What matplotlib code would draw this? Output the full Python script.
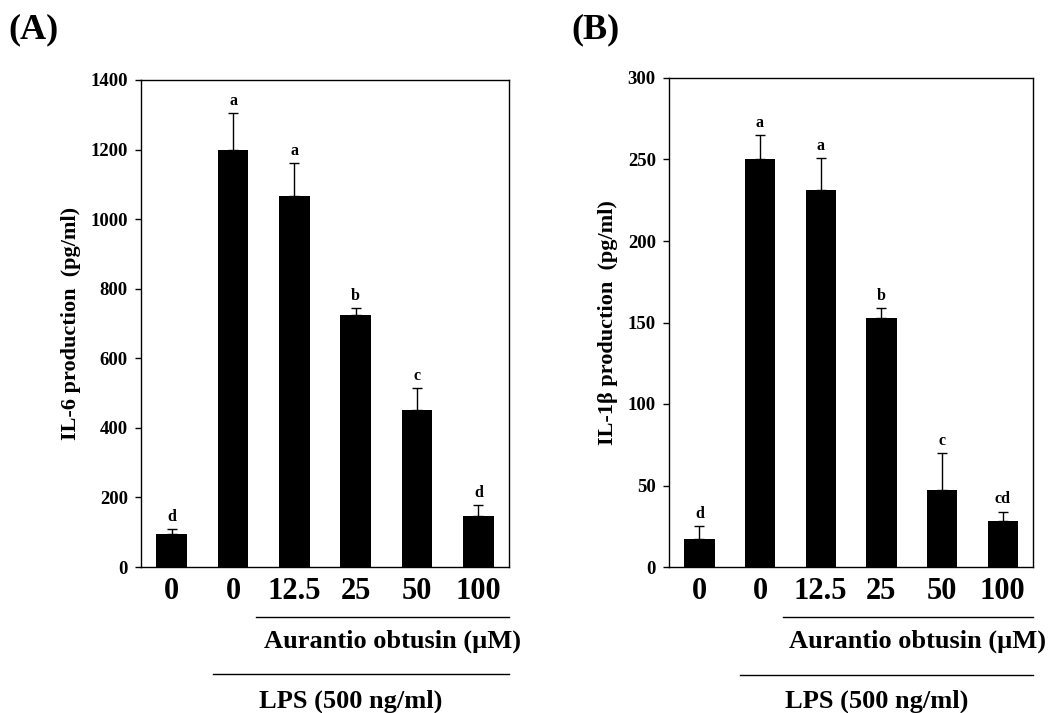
import matplotlib
matplotlib.use("Agg")
import matplotlib.pyplot as plt
import matplotlib.transforms as mtrans

plt.rcParams['font.family'] = ['Liberation Serif', 'DejaVu Serif']
plt.rcParams['font.weight'] = 'bold'

# data
doses = ['0', '0', '12.5', '25', '50', '100']
il6 = [95, 1200, 1067, 725, 452, 148]
il6_err = [14, 105, 94, 19, 62, 31]
il6_sig = ['d', 'a', 'a', 'b', 'c', 'd']
il1b = [17, 250, 231, 153, 47, 28]
il1b_err = [8, 15, 20, 6, 23, 6]
il1b_sig = ['d', 'a', 'a', 'b', 'c', 'cd']

W, H = 1063, 713
fig = plt.figure(figsize=(W / 100, H / 100), dpi=100)


def panel(rect, vals, errs, sig, ymax, ystep, ylabel, tag, tagpos):
    l, t, r, b = rect
    ax = fig.add_axes([l / W, 1 - b / H, (r - l) / W, (b - t) / H])
    x = range(len(vals))
    ax.bar(x, vals, width=0.5, color='black', zorder=2)
    ax.errorbar(x, vals, yerr=[[0] * len(vals), errs], fmt='none',
                ecolor='black', elinewidth=1, capsize=3.5, capthick=1, zorder=1)
    for i, (v, e, s) in enumerate(zip(vals, errs, sig)):
        ax.annotate(s, (i, v + e), xytext=(0, 3), textcoords='offset points',
                    ha='center', va='bottom', fontsize=11.5, fontweight='bold')
    ax.set_xlim(-0.5, len(vals) - 0.5)
    ax.set_ylim(0, ymax)
    ax.set_yticks(range(0, ymax + 1, ystep))
    ax.set_xticks(list(x))
    ax.set_xticklabels(doses, fontsize=22, fontweight='bold')
    ax.tick_params(axis='x', length=0, pad=7)
    ax.tick_params(axis='y', direction='out', length=4.5, width=1, labelsize=13.5, pad=5)
    for lab in ax.get_yticklabels():
        lab.set_fontweight('bold')
    for sp in ax.spines.values():
        sp.set_linewidth(1)
    ax.set_ylabel(ylabel, fontsize=16, fontweight='bold', labelpad=7)

    tr = mtrans.blended_transform_factory(ax.transData, ax.transAxes)
    ax.plot([1.38, 5.5], [-0.103, -0.103], color='black', lw=1,
            transform=tr, clip_on=False)
    ax.text(3.6, -0.152, 'Aurantio obtusin (\u00b5M)', transform=tr,
            ha='center', va='center', fontsize=19, fontweight='bold')
    ax.plot([0.67, 5.5], [-0.22, -0.22], color='black', lw=1,
            transform=tr, clip_on=False)
    ax.text(2.92, -0.275, 'LPS (500 ng/ml)', transform=tr,
            ha='center', va='center', fontsize=19, fontweight='bold')
    fig.text(tagpos[0] / W, 1 - tagpos[1] / H, tag, ha='left', va='center',
             fontsize=26, fontweight='bold')
    return ax


panel((141, 80, 509, 567), il6, il6_err, il6_sig, 1400, 200,
      'IL-6 production  (pg/ml)', '(A)', (8, 30))
panel((669, 78, 1033, 567), il1b, il1b_err, il1b_sig, 300, 50,
      'IL-1\u03b2 production  (pg/ml)', '(B)', (571, 30))

fig.savefig('out.png', dpi=100)
